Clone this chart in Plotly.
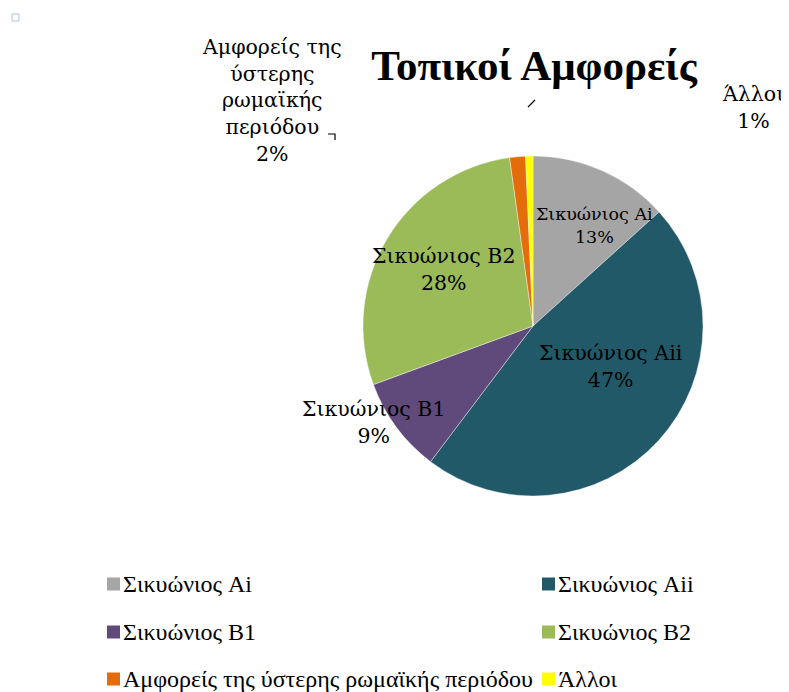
import plotly.graph_objects as go

# Δεδομένα
labels = ["Σικυώνιος Ai", "Σικυώνιος Aii", "Σικυώνιος B1", "Σικυώνιος B2",
          "Αμφορείς της ύστερης ρωμαϊκής περιόδου", "Άλλοι"]
values = [13.3, 47.0, 9.1, 28.4, 1.5, 0.7]
colors = ["#A5A5A5", "#215968", "#604A7B", "#9BBB59", "#E46C0A", "#FFFF00"]
title_text = "Τοπικοί Αμφορείς"

# ετικέτες δεδομένων όπως στο πρωτότυπο (σπασμένες γραμμές)
label_lines = ["Σικυώνιος Ai", "Σικυώνιος Aii", "Σικυώνιος B1", "Σικυώνιος B2",
               "Αμφορείς της<br>ύστερης<br>ρωμαϊκής<br>περιόδου", "Άλλοι"]

W, H = 789, 692
OFF = 8  # περιθώριο της σελίδας (body margin)
FW, FH = W - OFF, H - OFF


def px(x):
    return (x - OFF) / FW


def py(y):
    return 1 - (y - OFF) / FH


cx, cy, r = 533, 326, 170

total = sum(values)
pct = ["%.0f%%" % (v / total * 100) for v in values]

fig = go.Figure(go.Pie(
    labels=labels, values=values, sort=False, direction="clockwise", rotation=0,
    marker=dict(colors=colors, line=dict(color="white", width=0.4)),
    textinfo="none", showlegend=False,
    domain=dict(x=[px(cx - r), px(cx + r)], y=[py(cy + r), py(cy - r)]),
    hoverinfo="label+percent",
))

# θέσεις ετικετών (κέντρο, px) και μέγεθος γραμματοσειράς
label_pos = [(594, 225), (611, 366), (373, 422), (443, 269), (272, 100), (753, 107)]
label_size = [17.5, 20.5, 20.5, 20.5, 20.5, 20.5]
for name, p, (lx, ly), fs in zip(label_lines, pct, label_pos, label_size):
    fig.add_annotation(x=px(lx), y=py(ly), xref="paper", yref="paper",
                       xanchor="center", yanchor="middle", showarrow=False,
                       text=name + "<br>" + p, align="center",
                       font=dict(family="DejaVu Serif", size=fs, color="black"))

# μικρές γραμμές οδηγοί
fig.add_shape(type="path", xref="paper", yref="paper",
              path="M %f,%f L %f,%f L %f,%f" % (px(328), py(134), px(335), py(134), px(335), py(140)),
              line=dict(color="black", width=1.2))
fig.add_shape(type="line", xref="paper", yref="paper",
              x0=px(528), y0=py(107), x1=px(535), y1=py(100),
              line=dict(color="black", width=1.2))
# μικρό τετράγωνο πάνω αριστερά
fig.add_shape(type="rect", xref="paper", yref="paper",
              x0=px(12), y0=py(21), x1=px(19), y1=py(14),
              line=dict(color="#A9C4EB", width=1), fillcolor="white")

# υπόμνημα σε δύο στήλες
leg_font = dict(family="Liberation Serif", size=24, color="black")
col_x = [107, 542]
row_y = [584, 632, 679]
for i, (name, c) in enumerate(zip(labels, colors)):
    sx, sy = col_x[i % 2], row_y[i // 2]
    fig.add_shape(type="rect", xref="paper", yref="paper",
                  x0=px(sx), x1=px(sx + 13), y0=py(sy + 6.5), y1=py(sy - 6.5),
                  fillcolor=c, line=dict(width=0))
    fig.add_annotation(x=px(sx + 14), y=py(sy), xref="paper", yref="paper",
                       xanchor="left", yanchor="middle", showarrow=False,
                       text=name, font=leg_font)

fig.update_layout(
    width=FW, height=FH,
    margin=dict(l=0, r=0, t=0, b=0),
    paper_bgcolor="white", plot_bgcolor="white",
    title=dict(text="<b>" + title_text + "</b>", x=px(534), xanchor="center",
               y=py(65), yanchor="middle",
               font=dict(family="Liberation Serif", size=43, color="black")),
)

fig.write_html("out.html")
